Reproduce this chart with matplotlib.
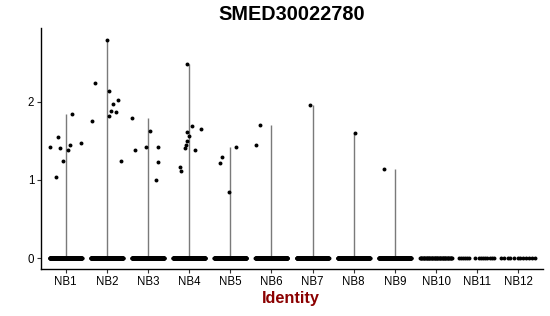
import numpy as np
import matplotlib
matplotlib.use("Agg")
import matplotlib.pyplot as plt

plt.rcParams['font.family'] = ['Liberation Sans', 'DejaVu Sans']

categories = ["NB1", "NB2", "NB3", "NB4", "NB5", "NB6", "NB7", "NB8", "NB9", "NB10", "NB11", "NB12"]

# non-zero expression values per identity, with their jitter offsets (category units)
nz_values = {
    "NB1": [1.42, 1.04, 1.55, 1.40, 1.24, 1.38, 1.45, 1.84, 1.47],
    "NB2": [1.75, 2.24, 2.78, 2.13, 1.81, 1.88, 1.97, 1.87, 2.02, 1.24],
    "NB3": [1.79, 1.38, 1.42, 1.62, 1.42, 1.23, 1.00],
    "NB4": [1.16, 1.11, 1.40, 1.44, 1.49, 1.61, 1.56, 2.48, 1.69, 1.38, 1.65],
    "NB5": [1.21, 1.29, 0.84, 1.42],
    "NB6": [1.44, 1.70],
    "NB7": [1.96],
    "NB8": [1.60],
    "NB9": [1.14],
    "NB10": [],
    "NB11": [],
    "NB12": [],
}
nz_offsets = {
    "NB1": [-0.37, -0.24, -0.19, -0.15, -0.07, 0.06, 0.11, 0.15, 0.38],
    "NB2": [-0.36, -0.28, 0.0, 0.05, 0.05, 0.11, 0.14, 0.23, 0.27, 0.35],
    "NB3": [-0.38, -0.32, -0.06, 0.05, 0.24, 0.24, 0.19],
    "NB4": [-0.21, -0.20, -0.11, -0.08, -0.04, -0.04, 0.0, -0.05, 0.08, 0.14, 0.29],
    "NB5": [-0.25, -0.21, -0.04, 0.14],
    "NB6": [-0.37, -0.27],
    "NB7": [-0.07],
    "NB8": [0.02],
    "NB9": [-0.26],
    "NB10": [],
    "NB11": [],
    "NB12": [],
}
# number of zero-expression cells per identity
zero_counts = [220, 220, 220, 220, 220, 220, 220, 220, 220, 45, 0, 0]
# explicit zero-point offsets for the sparse identities (category units)
nb11_zero_offsets = [-0.44, -0.39, -0.34, -0.29, -0.25, -0.20, -0.05, 0.05, 0.10, 0.15, 0.20, 0.25, 0.30, 0.35, 0.40]
nb12_zero_offsets = [-0.41, -0.34, -0.24, -0.19, -0.10, 0.0, 0.05, 0.12, 0.19, 0.27, 0.34, 0.41]

fig = plt.figure(figsize=(5.5, 3.16), dpi=100)
ax = fig.add_axes([41/550, 1-269/316, (543-41)/550, (269-28.3)/316])

xs, ys = [], []
maxs = []
for i, cat in enumerate(categories):
    pos = i + 1
    vals = nz_values[cat]
    offs = nz_offsets[cat]
    xs += [pos + o for o in offs]
    ys += vals
    n0 = zero_counts[i]
    if cat == "NB11":
        z_off = nb11_zero_offsets
    elif cat == "NB12":
        z_off = nb12_zero_offsets
    else:
        z_off = list(np.linspace(-0.39, 0.39, n0)) if n0 > 0 else []
    xs += [pos + o for o in z_off]
    ys += [0.0] * len(z_off)
    maxs.append(max(vals) if vals else 0.0)

# trimmed violins (appear as thin lines)
pos_arr = np.arange(1, len(categories) + 1)
mask = np.array(maxs) > 0
ax.vlines(pos_arr[mask], 0, np.array(maxs)[mask], color="#7a7a7a", lw=1.0, zorder=1)

ax.scatter(xs, ys, s=8, color="black", linewidths=0, zorder=2)

ax.set_xlim(0.4, 12.6)
ax.set_ylim(-0.139, 2.935)
ax.set_xticks(pos_arr)
ax.set_xticklabels(categories)
ax.set_yticks([0, 1, 2])
ax.set_yticklabels(["0", "1", "2"])
ax.tick_params(axis='both', labelsize=8.3, length=3, width=0.8, color="#333333", pad=2, labelcolor="black")
for s in ["top", "right"]:
    ax.spines[s].set_visible(False)
for s in ["left", "bottom"]:
    ax.spines[s].set_linewidth(1.0)

fig.text(0.531, 1-15/316, "SMED30022780", ha="center", va="center", fontsize=14.3, fontweight="bold")
fig.text(0.529, 1-299/316, "Identity", ha="center", va="center", fontsize=11.7, fontweight="bold", color="#8B0000")

fig.savefig("out.png", dpi=100)
